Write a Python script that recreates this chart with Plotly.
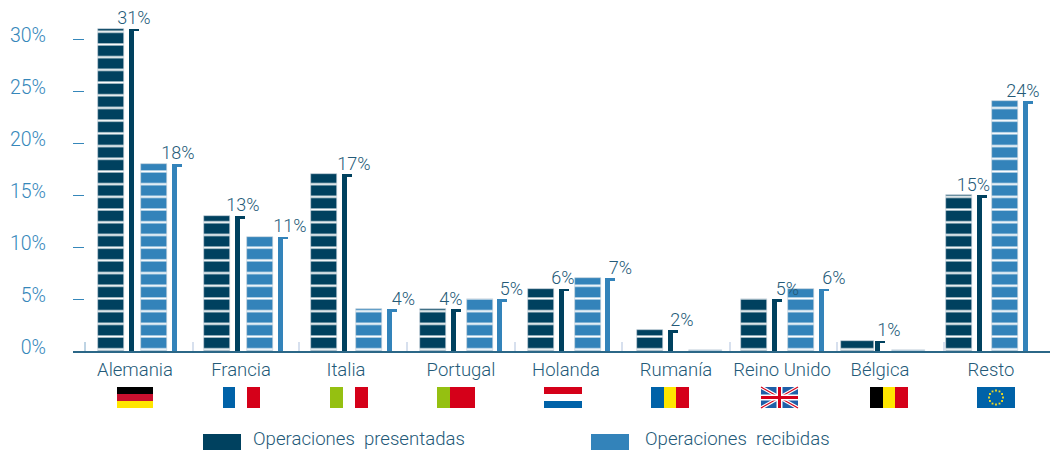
import numpy as np
import plotly.graph_objects as go

# ---- data -------------------------------------------------------------
categories = ["Alemania", "Francia", "Italia", "Portugal", "Holanda",
              "Rumanía", "Reino Unido", "Bélgica", "Resto"]
presentadas = [31, 13, 17, 4, 6, 2, 5, 1, 15]
recibidas = [18, 11, 4, 5, 7, 0.1, 6, 0.1, 24]
y_ticks = [0, 5, 10, 15, 20, 25, 30]

# ---- horizontal placement (x axis runs in page pixels) ----------------
bar1_x = [110.5, 216.5, 324, 432.5, 541, 650, 753.5, 857.5, 958.5]
bar1_w = [26, 26, 26, 26, 26, 26, 26, 33, 26]
stem1_x = [131.5, 237.5, 344, 453, 561, 670, 774.5, 877, 979.5]
bar2_x = [154, 260, 369, 479.5, 587.5, 705.5, 801, 908.5, 1005]
bar2_w = [26, 26, 26, 26, 26, 33, 26, 33, 26]
stem2_x = [174, 280, 389.5, 499.5, 607.5, None, 821, None, 1025]
label1_dx = [2.5, 5.5, 10, -2, 2, 12, 13, 12, -6]
label2_dx = [4, 10, 14, 12, 13, 0, 13, 0, -2]
name_x = [135, 241, 346, 461, 566, 676, 782, 880, 991]
separators = [193, 299, 407, 515, 622, 730, 837, 944]

DARK = "#00415f"
BLUE = "#3383ba"
TEXT = "#245a78"
AXIS_BLUE = "#3587ba"
FONT = "Roboto"
BASE_PX = 351  # page row of the zero line
PX_PER_UNIT = 10.4
CAP = 0.26


def striped_bar(x, y, w, color):
    return go.Bar(
        x=x, y=y, width=w, showlegend=False, hoverinfo="skip",
        marker=dict(
            color=color,
            line=dict(color="#c3d0da", width=0.6),
            pattern=dict(shape="-", size=12.7, solidity=0.17,
                         fgcolor="white", bgcolor=color, fillmode="replace"),
        ),
    )


def gamma_marker(stems, values, color):
    # thin stem beside a bar with a short cap to the right at its top
    xs = [s for s in stems if s is not None]
    vs = [v for s, v in zip(stems, values) if s is not None]
    return [
        go.Bar(x=xs, y=vs, width=5, marker=dict(color=color, line=dict(width=0)),
               showlegend=False, hoverinfo="skip"),
        go.Bar(x=[s + 2.5 for s in xs], y=[CAP] * len(xs),
               base=[v - CAP for v in vs], width=10,
               marker=dict(color=color, line=dict(width=0)),
               showlegend=False, hoverinfo="skip"),
    ]


def value_labels(stems, bars, dx, values):
    xs, ys, texts = [], [], []
    for s, b, d, v in zip(stems, bars, dx, values):
        if s is None:
            continue
        xs.append(s + d)
        ys.append(v)
        texts.append(f"{v}%")
    return go.Scatter(
        x=xs, y=ys, text=texts, mode="text", textposition="top center",
        textfont=dict(family=FONT, size=18, color=TEXT, weight=300),
        showlegend=False, hoverinfo="skip", cliponaxis=False,
    )


fig = go.Figure()
fig.add_trace(striped_bar(bar1_x, presentadas, bar1_w, DARK))
fig.add_trace(striped_bar(bar2_x, recibidas, bar2_w, BLUE))
for tr in gamma_marker(stem1_x, presentadas, DARK):
    fig.add_trace(tr)
for tr in gamma_marker(stem2_x, recibidas, BLUE):
    fig.add_trace(tr)
fig.add_trace(value_labels(stem1_x, bar1_x, label1_dx, presentadas))
fig.add_trace(value_labels(stem2_x, bar2_x, label2_dx, recibidas))


# ---- flags, drawn as shapes under the country names -------------------
def py(p):
    """Page row to paper coordinate of the plot area."""
    return (BASE_PX - p) / BASE_PX


shapes = []


def rect(x0, x1, top, bottom, color):
    shapes.append(dict(type="rect", xref="x", yref="paper", x0=x0, x1=x1,
                       y0=py(bottom), y1=py(top), fillcolor=color,
                       line=dict(width=0), layer="above"))


def seg(x0, top0, x1, top1, color, width):
    shapes.append(dict(type="line", xref="x", yref="paper", x0=x0, x1=x1,
                       y0=py(top0), y1=py(top1),
                       line=dict(color=color, width=width), layer="above"))


FT, FB = 387, 408
RED, YEL, FBLUE, GREEN = "#d50019", "#ffe600", "#0062a8", "#95c011"

# Germany
rect(117, 153, FT, FT + 7, "#000000")
rect(117, 153, FT + 7, FT + 14, "#c8102e")
rect(117, 153, FT + 14, FB, YEL)
# France
rect(223, 235, FT, FB, FBLUE)
rect(247, 260, FT, FB, RED)
# Italy
rect(330, 343, FT, FB, GREEN)
rect(355, 368, FT, FB, RED)
# Portugal
rect(437, 450, FT, FB, GREEN)
rect(450, 475, FT, FB, RED)
# Netherlands
rect(544, 582, FT, FT + 7, RED)
rect(544, 582, FT + 14, FB, FBLUE)
# Romania
rect(651, 664, FT, FB, FBLUE)
rect(664, 676, FT, FB, YEL)
rect(676, 689, FT, FB, RED)
# United Kingdom
UL, UR = 761, 798
rect(UL, UR, FT, FB, "#1f5fa8")
seg(UL, FT, UR, FB, "white", 3.5)
seg(UL, FB, UR, FT, "white", 3.5)
seg(UL, FT, UR, FB, RED, 1.2)
seg(UL, FB, UR, FT, RED, 1.2)
rect(UL, UR, FT + 7.5, FT + 13.5, "white")
rect(UL + 15.5, UL + 21.5, FT, FB, "white")
rect(UL, UR, FT + 9, FT + 12, RED)
rect(UL + 17, UL + 20, FT, FB, RED)
# Belgium
rect(870, 883, FT, FB, "#000000")
rect(883, 895, FT, FB, YEL)
rect(895, 908, FT, FB, RED)
# European Union
rect(977, 1015, FT, FB, FBLUE)
for a in np.arange(12) * np.pi / 6:
    cx, cy = 996 + 7 * np.cos(a), 397.5 + 7 * np.sin(a)
    rect(cx - 0.9, cx + 0.9, cy - 0.9, cy + 0.9, "#f5dc1e")

# first, darker divider on the axis
seg(85, 342, 85, 351, "#7fa9c9", 1)

# ---- legend, built from swatches and text -----------------------------
rect(203, 241, 434, 450, DARK)
rect(591, 629, 434, 450, BLUE)
legend_items = [(252, "Operaciones\u00a0\u00a0presentadas"),
                (644, "Operaciones\u00a0\u00a0recibidas")]
annotations = [
    dict(x=x, y=py(438.5), xref="x", yref="paper", text=t, showarrow=False,
         xanchor="left", yanchor="middle", borderpad=0,
         font=dict(family=FONT, size=18.6, color=TEXT, weight=300))
    for x, t in legend_items
]

fig.update_layout(
    width=1050, height=450, autosize=False,
    margin=dict(l=73, r=0, t=0, b=99, pad=0),
    paper_bgcolor="white", plot_bgcolor="white",
    barmode="overlay", bargap=0,
    shapes=shapes, annotations=annotations,
    showlegend=False,
    xaxis=dict(
        range=[73, 1050], fixedrange=True, showgrid=False, zeroline=False,
        showline=True, linecolor="#2b6787", linewidth=1.5,
        tickmode="array", tickvals=name_x, ticktext=categories,
        ticks="", ticklabelstandoff=1,
        tickfont=dict(family=FONT, size=18.5, color=TEXT, weight=300),
        minor=dict(tickmode="array", tickvals=separators, ticks="inside",
                   ticklen=9, tickcolor="#d7e0ee", tickwidth=1.5),
    ),
    yaxis=dict(
        range=[0, BASE_PX / PX_PER_UNIT], fixedrange=True, showgrid=False,
        zeroline=False, showline=False,
        tickmode="array", tickvals=y_ticks, ticktext=[f"{v}%" for v in y_ticks],
        ticks="inside", ticklen=11, tickcolor=AXIS_BLUE, tickwidth=1,
        ticklabelstandoff=26, ticklabelshift=-4,
        tickfont=dict(family=FONT, size=19.5, color=AXIS_BLUE, weight=300),
    ),
)

fig.write_html("out.html", config=dict(displayModeBar=False))
